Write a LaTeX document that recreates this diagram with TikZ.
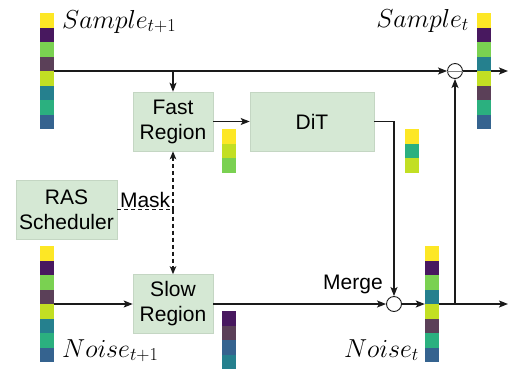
\RequirePackage{fix-cm}
\documentclass[tikz,border=0pt]{standalone}
\usepackage{fontspec}
\newfontfamily\arial{Liberation Sans}
\usetikzlibrary{arrows.meta,calc}
\definecolor{vY}{HTML}{FDE725}
\definecolor{vP}{HTML}{48185F}
\definecolor{vG}{HTML}{7AD151}
\definecolor{vM}{HTML}{5B4058}
\definecolor{vL}{HTML}{C2DF23}
\definecolor{vT}{HTML}{25808E}
\definecolor{vTG}{HTML}{2BB07F}
\definecolor{vB}{HTML}{35638F}
\definecolor{boxfill}{HTML}{D5E8D4}
\definecolor{boxline}{HTML}{C4D6C3}
\definecolor{ink}{HTML}{1A1A1A}
\newcommand\cellstack[4]{%
  \foreach \c [count=\i from 0] in {#4} {
    \fill[\c] (#2,#3+\i*14.5) rectangle ++(14,14.5);
  }
}
\tikzset{
  box/.style={draw=boxline, line width=0.6pt, fill=boxfill, align=center,
    font=\arial\fontsize{21}{25}\selectfont, inner sep=0pt},
  arr/.style={draw=ink, -{Stealth[length=9pt,width=7pt,inset=2pt]}, line width=1.3pt},
  dashline/.style={draw=ink, line width=1.3pt, dash pattern=on 4pt off 3pt},
  dasharr/.style={dashline, -{Stealth[length=8pt,width=6.5pt,inset=2pt]}},
  joint/.style={circle, draw=ink, fill=white, line width=0.9pt, minimum size=15pt, inner sep=0pt},
  stackn/.style={inner sep=0pt, minimum width=14pt},
  mathlbl/.style={font=\fontsize{26}{30}\selectfont, inner sep=0pt},
  txt/.style={font=\arial\fontsize{21}{25}\selectfont, inner sep=1pt}
}
\begin{document}
\begin{tikzpicture}[x=1pt,y=-1pt]
\useasboundingbox[fill=white] (0,0) rectangle (508,368);

% stack anchor nodes
\node[stackn, minimum height=116pt] (s1) at (47,71) {};
\node[stackn, minimum height=116pt] (s2) at (484,71) {};
\node[stackn, minimum height=116pt] (n1) at (47,304) {};
\node[stackn, minimum height=116pt] (n2) at (432,304) {};

% boxes
\node[box, minimum width=80pt, minimum height=59pt] (fast) at (173,121.5) {Fast\\Region};
\node[box, minimum width=124pt, minimum height=59pt] (dit) at (312,121.5) {DiT};
\node[box, minimum width=80pt, minimum height=59pt] (slow) at (173,304) {Slow\\Region};
\node[box, minimum width=101pt, minimum height=59pt] (ras) at (66.5,209.5) {RAS\\Scheduler};

% joints
\node[joint] (c1) at (455,71) {};
\node[joint] (m) at (394,304) {};

\coordinate (outt) at (508,71);
\coordinate (outb) at (508,304);

% top line
\draw[arr] (s1.east) -- (c1.west);
\draw[gray, line width=0.9pt] (c1.west) -- (c1.east);
\draw[arr] (c1.east) -- (outt);
\draw[arr] (fast.north |- s1.east) -- (fast.north);
\draw[arr] (fast.east) -- (dit.west);
\draw[arr] (dit.east) -| (m.north);

% bottom line
\draw[arr] (n1.east) -- (slow.west);
\draw[arr] (slow.east) -- (m.west);
\draw[arr] (m.east) -- (n2.west);
\draw[arr] (n2.east) -- (outb);
\draw[arr] (c1.south |- n2.east) -- (c1.south);

% mask
\draw[dashline] (ras.east) -- (ras.east -| fast.south) coordinate (mk);
\draw[dasharr] (mk) -- (fast.south);
\draw[dasharr] (mk) -- (slow.north);
\node[txt, anchor=south] (mask) at ($(ras.east)!0.5!(mk)+(0,-0.5)$) {Mask};
\node[txt, anchor=base west, inner sep=0pt] (merge) at (323,289) {Merge};

% stacks
\cellstack{s1}{40}{13}{vY,vP,vG,vM,vL,vT,vTG,vB}
\cellstack{s2}{477}{13}{vY,vP,vG,vT,vL,vM,vTG,vB}
\cellstack{n1}{40}{246}{vY,vP,vG,vM,vL,vT,vTG,vB}
\cellstack{n2}{425}{246}{vY,vP,vG,vT,vL,vM,vTG,vB}
\cellstack{fo}{222}{129}{vY,vL,vG}
\cellstack{do}{405}{129}{vY,vTG,vL}
\cellstack{so}{222}{311}{vP,vM,vB,vT}

% labels
\node[mathlbl, anchor=base west] (ls1) at (62,28) {$Sample_{t+1}$};
\node[mathlbl, anchor=base east] (ls2) at (469,27) {$Sample_{t}$};
\node[mathlbl, anchor=base west] (ln1) at (62,357) {$Noise_{t+1}$};
\node[mathlbl, anchor=base east] (ln2) at (419,357) {$Noise_{t}$};
\end{tikzpicture}
\end{document}
